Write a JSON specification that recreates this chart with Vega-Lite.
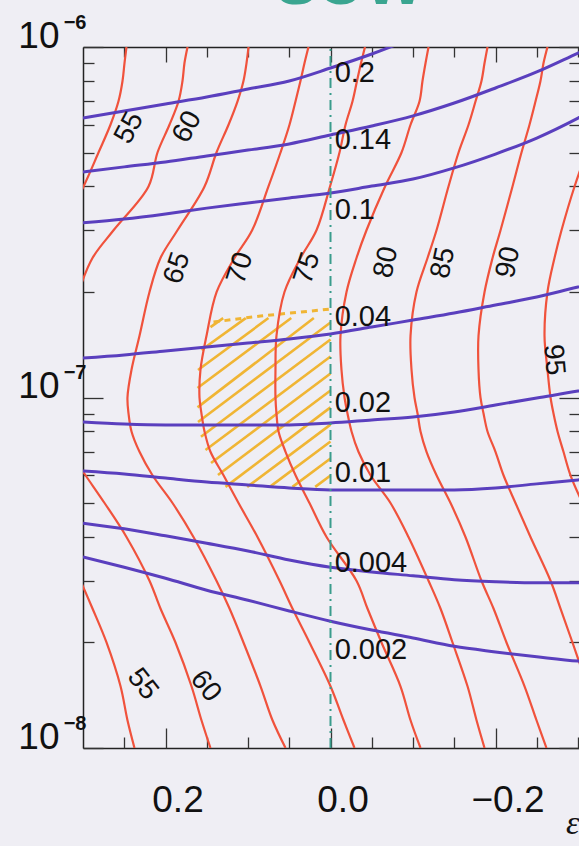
{
  "$schema": "https://vega.github.io/schema/vega-lite/v6.json",
  "width": 496,
  "height": 701,
  "autosize": "none",
  "padding": {"left": 83, "top": 47, "right": 0, "bottom": 98},
  "background": "#EFEEF4",
  "config": {
    "view": {"stroke": null},
    "font": "Liberation Sans",
    "axis": {"grid": false, "tickColor": "#333333", "tickWidth": 1.3, "domainColor": "#222222", "domainWidth": 1.5, "labelColor": "#111111", "labelFont": "Liberation Sans"}
  },
  "datasets": {
    "red": [
      {"c":"55a","eps":0.2473,"y":1e-6},{"c":"55a","eps":0.2497,"y":9e-7},{"c":"55a","eps":0.2521,"y":8e-7},{"c":"55a","eps":0.257,"y":7e-7},{"c":"55a","eps":0.2667,"y":6e-7},{"c":"55a","eps":0.2812,"y":5e-7},{"c":"55a","eps":0.2994,"y":4e-7},{"c":"55a","eps":0.327,"y":3e-7},
      {"c":"55b","eps":0.303,"y":3e-8},{"c":"55b","eps":0.2885,"y":2.5e-8},{"c":"55b","eps":0.2715,"y":2e-8},{"c":"55b","eps":0.2545,"y":1.5e-8},{"c":"55b","eps":0.2461,"y":1.2e-8},{"c":"55b","eps":0.2376,"y":1e-8},
      {"c":"60a","eps":0.1733,"y":1e-6},{"c":"60a","eps":0.177,"y":9e-7},{"c":"60a","eps":0.1794,"y":8e-7},{"c":"60a","eps":0.1842,"y":7e-7},{"c":"60a","eps":0.1952,"y":6e-7},{"c":"60a","eps":0.2097,"y":5e-7},{"c":"60a","eps":0.2206,"y":4e-7},{"c":"60a","eps":0.263,"y":3e-7},{"c":"60a","eps":0.2885,"y":2.5e-7},{"c":"60a","eps":0.3055,"y":2e-7},
      {"c":"60b","eps":0.316,"y":7e-8},{"c":"60b","eps":0.297,"y":6e-8},{"c":"60b","eps":0.2739,"y":5e-8},{"c":"60b","eps":0.2473,"y":4e-8},{"c":"60b","eps":0.2194,"y":3e-8},{"c":"60b","eps":0.2061,"y":2.5e-8},{"c":"60b","eps":0.1879,"y":2e-8},{"c":"60b","eps":0.1685,"y":1.5e-8},{"c":"60b","eps":0.1564,"y":1.2e-8},{"c":"60b","eps":0.1455,"y":1e-8},
      {"c":"65","eps":0.0994,"y":1e-6},{"c":"65","eps":0.1018,"y":9e-7},{"c":"65","eps":0.1055,"y":8e-7},{"c":"65","eps":0.1127,"y":7e-7},{"c":"65","eps":0.1236,"y":6e-7},{"c":"65","eps":0.1382,"y":5e-7},{"c":"65","eps":0.1527,"y":4e-7},{"c":"65","eps":0.1855,"y":3e-7},{"c":"65","eps":0.2061,"y":2.5e-7},{"c":"65","eps":0.2194,"y":2e-7},{"c":"65","eps":0.2315,"y":1.5e-7},{"c":"65","eps":0.2412,"y":1.2e-7},{"c":"65","eps":0.2461,"y":1e-7},{"c":"65","eps":0.2448,"y":9e-8},{"c":"65","eps":0.2412,"y":8e-8},{"c":"65","eps":0.2315,"y":7e-8},{"c":"65","eps":0.2158,"y":6e-8},{"c":"65","eps":0.1915,"y":5e-8},{"c":"65","eps":0.1661,"y":4e-8},{"c":"65","eps":0.1382,"y":3e-8},{"c":"65","eps":0.1224,"y":2.5e-8},{"c":"65","eps":0.1055,"y":2e-8},{"c":"65","eps":0.0848,"y":1.5e-8},{"c":"65","eps":0.0703,"y":1.2e-8},{"c":"65","eps":0.0545,"y":1e-8},
      {"c":"70","eps":0.0267,"y":1e-6},{"c":"70","eps":0.0315,"y":9e-7},{"c":"70","eps":0.0364,"y":8e-7},{"c":"70","eps":0.0424,"y":7e-7},{"c":"70","eps":0.0497,"y":6e-7},{"c":"70","eps":0.0606,"y":5e-7},{"c":"70","eps":0.0752,"y":4e-7},{"c":"70","eps":0.095,"y":3e-7},{"c":"70","eps":0.1164,"y":2.5e-7},{"c":"70","eps":0.138,"y":2e-7},{"c":"70","eps":0.1503,"y":1.5e-7},{"c":"70","eps":0.1576,"y":1.2e-7},{"c":"70","eps":0.1588,"y":1e-7},{"c":"70","eps":0.1564,"y":9e-8},{"c":"70","eps":0.1527,"y":8e-8},{"c":"70","eps":0.1455,"y":7e-8},{"c":"70","eps":0.1297,"y":6e-8},{"c":"70","eps":0.1115,"y":5e-8},{"c":"70","eps":0.0885,"y":4e-8},{"c":"70","eps":0.0618,"y":3e-8},{"c":"70","eps":0.0461,"y":2.5e-8},{"c":"70","eps":0.0255,"y":2e-8},{"c":"70","eps":0.0,"y":1.5e-8},{"c":"70","eps":-0.0158,"y":1.2e-8},{"c":"70","eps":-0.0291,"y":1e-8},
      {"c":"75","eps":-0.0418,"y":1e-6},{"c":"75","eps":-0.037,"y":9e-7},{"c":"75","eps":-0.0321,"y":8e-7},{"c":"75","eps":-0.0267,"y":7e-7},{"c":"75","eps":-0.0182,"y":6e-7},{"c":"75","eps":-0.0109,"y":5e-7},{"c":"75","eps":0.0006,"y":4e-7},{"c":"75","eps":0.017,"y":3e-7},{"c":"75","eps":0.0364,"y":2.5e-7},{"c":"75","eps":0.0558,"y":2e-7},{"c":"75","eps":0.0655,"y":1.5e-7},{"c":"75","eps":0.0667,"y":1.2e-7},{"c":"75","eps":0.0667,"y":1e-7},{"c":"75","eps":0.0655,"y":9e-8},{"c":"75","eps":0.063,"y":8e-8},{"c":"75","eps":0.0545,"y":7e-8},{"c":"75","eps":0.0424,"y":6e-8},{"c":"75","eps":0.0255,"y":5e-8},{"c":"75","eps":0.0048,"y":4e-8},{"c":"75","eps":-0.0315,"y":3e-8},{"c":"75","eps":-0.0448,"y":2.5e-8},{"c":"75","eps":-0.0618,"y":2e-8},{"c":"75","eps":-0.0848,"y":1.5e-8},{"c":"75","eps":-0.097,"y":1.2e-8},{"c":"75","eps":-0.1091,"y":1e-8},
      {"c":"80","eps":-0.1188,"y":1e-6},{"c":"80","eps":-0.1152,"y":9e-7},{"c":"80","eps":-0.1115,"y":8e-7},{"c":"80","eps":-0.1079,"y":7e-7},{"c":"80","eps":-0.097,"y":6e-7},{"c":"80","eps":-0.0861,"y":5e-7},{"c":"80","eps":-0.0661,"y":4e-7},{"c":"80","eps":-0.0436,"y":3e-7},{"c":"80","eps":-0.0315,"y":2.5e-7},{"c":"80","eps":-0.0194,"y":2e-7},{"c":"80","eps":-0.0121,"y":1.5e-7},{"c":"80","eps":-0.0133,"y":1.2e-7},{"c":"80","eps":-0.017,"y":1e-7},{"c":"80","eps":-0.0206,"y":9e-8},{"c":"80","eps":-0.0255,"y":8e-8},{"c":"80","eps":-0.0339,"y":7e-8},{"c":"80","eps":-0.0485,"y":6e-8},{"c":"80","eps":-0.0727,"y":5e-8},{"c":"80","eps":-0.0945,"y":4e-8},{"c":"80","eps":-0.1188,"y":3e-8},{"c":"80","eps":-0.1333,"y":2.5e-8},{"c":"80","eps":-0.1479,"y":2e-8},{"c":"80","eps":-0.1661,"y":1.5e-8},{"c":"80","eps":-0.177,"y":1.2e-8},{"c":"80","eps":-0.1867,"y":1e-8},
      {"c":"85","eps":-0.1903,"y":1e-6},{"c":"85","eps":-0.1867,"y":9e-7},{"c":"85","eps":-0.183,"y":8e-7},{"c":"85","eps":-0.1758,"y":7e-7},{"c":"85","eps":-0.1673,"y":6e-7},{"c":"85","eps":-0.1552,"y":5e-7},{"c":"85","eps":-0.143,"y":4e-7},{"c":"85","eps":-0.1285,"y":3e-7},{"c":"85","eps":-0.1176,"y":2.5e-7},{"c":"85","eps":-0.1042,"y":2e-7},{"c":"85","eps":-0.097,"y":1.5e-7},{"c":"85","eps":-0.0982,"y":1.2e-7},{"c":"85","eps":-0.1018,"y":1e-7},{"c":"85","eps":-0.1055,"y":9e-8},{"c":"85","eps":-0.1091,"y":8e-8},{"c":"85","eps":-0.1164,"y":7e-8},{"c":"85","eps":-0.1285,"y":6e-8},{"c":"85","eps":-0.1455,"y":5e-8},{"c":"85","eps":-0.1636,"y":4e-8},{"c":"85","eps":-0.183,"y":3e-8},{"c":"85","eps":-0.1976,"y":2.5e-8},{"c":"85","eps":-0.2133,"y":2e-8},{"c":"85","eps":-0.2352,"y":1.5e-8},{"c":"85","eps":-0.2497,"y":1.2e-8},{"c":"85","eps":-0.2618,"y":1e-8},
      {"c":"90","eps":-0.263,"y":1e-6},{"c":"90","eps":-0.2582,"y":9e-7},{"c":"90","eps":-0.2545,"y":8e-7},{"c":"90","eps":-0.2485,"y":7e-7},{"c":"90","eps":-0.2412,"y":6e-7},{"c":"90","eps":-0.2315,"y":5e-7},{"c":"90","eps":-0.2206,"y":4e-7},{"c":"90","eps":-0.2061,"y":3e-7},{"c":"90","eps":-0.1964,"y":2.5e-7},{"c":"90","eps":-0.1867,"y":2e-7},{"c":"90","eps":-0.1794,"y":1.5e-7},{"c":"90","eps":-0.1794,"y":1.2e-7},{"c":"90","eps":-0.1818,"y":1e-7},{"c":"90","eps":-0.1855,"y":9e-8},{"c":"90","eps":-0.1903,"y":8e-8},{"c":"90","eps":-0.2,"y":7e-8},{"c":"90","eps":-0.2097,"y":6e-8},{"c":"90","eps":-0.2242,"y":5e-8},{"c":"90","eps":-0.2424,"y":4e-8},{"c":"90","eps":-0.2667,"y":3e-8},{"c":"90","eps":-0.2788,"y":2.5e-8},{"c":"90","eps":-0.2933,"y":2e-8},{"c":"90","eps":-0.3115,"y":1.5e-8},
      {"c":"95","eps":-0.3103,"y":5e-7},{"c":"95","eps":-0.2958,"y":4e-7},{"c":"95","eps":-0.28,"y":3e-7},{"c":"95","eps":-0.2715,"y":2.5e-7},{"c":"95","eps":-0.263,"y":2e-7},{"c":"95","eps":-0.2594,"y":1.5e-7},{"c":"95","eps":-0.263,"y":1.2e-7},{"c":"95","eps":-0.2667,"y":1e-7},{"c":"95","eps":-0.2703,"y":9e-8},{"c":"95","eps":-0.2752,"y":8e-8},{"c":"95","eps":-0.2824,"y":7e-8},{"c":"95","eps":-0.2909,"y":6e-8},{"c":"95","eps":-0.3055,"y":5e-8}
    ],
    "purple": [
      {"c":"0.2","eps":0.3,"y":6.27e-7},{"c":"0.2","eps":0.25,"y":6.57e-7},{"c":"0.2","eps":0.2,"y":6.88e-7},{"c":"0.2","eps":0.15,"y":7.2e-7},{"c":"0.2","eps":0.1,"y":7.59e-7},{"c":"0.2","eps":0.05,"y":8.0e-7},{"c":"0.2","eps":0,"y":8.71e-7},{"c":"0.2","eps":-0.05,"y":9.55e-7},{"c":"0.2","eps":-0.1,"y":1.061e-6},
      {"c":"0.14","eps":0.3,"y":4.4e-7},{"c":"0.14","eps":0.25,"y":4.55e-7},{"c":"0.14","eps":0.2,"y":4.7e-7},{"c":"0.14","eps":0.15,"y":4.89e-7},{"c":"0.14","eps":0.1,"y":5.08e-7},{"c":"0.14","eps":0.05,"y":5.29e-7},{"c":"0.14","eps":0,"y":5.61e-7},{"c":"0.14","eps":-0.05,"y":5.95e-7},{"c":"0.14","eps":-0.1,"y":6.36e-7},{"c":"0.14","eps":-0.15,"y":6.92e-7},{"c":"0.14","eps":-0.2,"y":7.64e-7},{"c":"0.14","eps":-0.25,"y":8.49e-7},{"c":"0.14","eps":-0.3,"y":9.61e-7},{"c":"0.14","eps":-0.327,"y":1.027e-6},
      {"c":"0.1","eps":0.3,"y":3.15e-7},{"c":"0.1","eps":0.25,"y":3.23e-7},{"c":"0.1","eps":0.2,"y":3.34e-7},{"c":"0.1","eps":0.15,"y":3.47e-7},{"c":"0.1","eps":0.1,"y":3.59e-7},{"c":"0.1","eps":0.05,"y":3.71e-7},{"c":"0.1","eps":0,"y":3.83e-7},{"c":"0.1","eps":-0.05,"y":4.01e-7},{"c":"0.1","eps":-0.1,"y":4.2e-7},{"c":"0.1","eps":-0.15,"y":4.52e-7},{"c":"0.1","eps":-0.2,"y":4.95e-7},{"c":"0.1","eps":-0.25,"y":5.5e-7},{"c":"0.1","eps":-0.3,"y":6.27e-7},{"c":"0.1","eps":-0.327,"y":6.79e-7},
      {"c":"0.04","eps":0.3,"y":1.297e-7},{"c":"0.04","eps":0.25,"y":1.323e-7},{"c":"0.04","eps":0.2,"y":1.358e-7},{"c":"0.04","eps":0.15,"y":1.394e-7},{"c":"0.04","eps":0.1,"y":1.431e-7},{"c":"0.04","eps":0.05,"y":1.469e-7},{"c":"0.04","eps":0,"y":1.518e-7},{"c":"0.04","eps":-0.05,"y":1.588e-7},{"c":"0.04","eps":-0.1,"y":1.664e-7},{"c":"0.04","eps":-0.15,"y":1.742e-7},{"c":"0.04","eps":-0.2,"y":1.836e-7},{"c":"0.04","eps":-0.25,"y":1.935e-7},{"c":"0.04","eps":-0.3,"y":2.066e-7},{"c":"0.04","eps":-0.327,"y":2.135e-7},
      {"c":"0.02","eps":0.3,"y":8.51e-8},{"c":"0.02","eps":0.25,"y":8.4e-8},{"c":"0.02","eps":0.2,"y":8.35e-8},{"c":"0.02","eps":0.15,"y":8.35e-8},{"c":"0.02","eps":0.1,"y":8.35e-8},{"c":"0.02","eps":0.05,"y":8.35e-8},{"c":"0.02","eps":0,"y":8.46e-8},{"c":"0.02","eps":-0.05,"y":8.63e-8},{"c":"0.02","eps":-0.1,"y":8.8e-8},{"c":"0.02","eps":-0.15,"y":9.09e-8},{"c":"0.02","eps":-0.2,"y":9.52e-8},{"c":"0.02","eps":-0.25,"y":9.97e-8},{"c":"0.02","eps":-0.3,"y":1.043e-7},{"c":"0.02","eps":-0.327,"y":1.072e-7},
      {"c":"0.01","eps":0.3,"y":6.17e-8},{"c":"0.01","eps":0.25,"y":6.05e-8},{"c":"0.01","eps":0.2,"y":5.89e-8},{"c":"0.01","eps":0.15,"y":5.74e-8},{"c":"0.01","eps":0.1,"y":5.63e-8},{"c":"0.01","eps":0.05,"y":5.52e-8},{"c":"0.01","eps":0,"y":5.45e-8},{"c":"0.01","eps":-0.05,"y":5.45e-8},{"c":"0.01","eps":-0.1,"y":5.45e-8},{"c":"0.01","eps":-0.15,"y":5.45e-8},{"c":"0.01","eps":-0.2,"y":5.52e-8},{"c":"0.01","eps":-0.25,"y":5.67e-8},{"c":"0.01","eps":-0.3,"y":5.82e-8},{"c":"0.01","eps":-0.327,"y":5.89e-8},
      {"c":"0.004","eps":0.3,"y":4.38e-8},{"c":"0.004","eps":0.25,"y":4.22e-8},{"c":"0.004","eps":0.2,"y":4.03e-8},{"c":"0.004","eps":0.15,"y":3.84e-8},{"c":"0.004","eps":0.1,"y":3.65e-8},{"c":"0.004","eps":0.05,"y":3.44e-8},{"c":"0.004","eps":0,"y":3.28e-8},{"c":"0.004","eps":-0.05,"y":3.18e-8},{"c":"0.004","eps":-0.1,"y":3.1e-8},{"c":"0.004","eps":-0.15,"y":3.02e-8},{"c":"0.004","eps":-0.2,"y":2.98e-8},{"c":"0.004","eps":-0.25,"y":2.96e-8},{"c":"0.004","eps":-0.3,"y":2.96e-8},{"c":"0.004","eps":-0.327,"y":2.96e-8},
      {"c":"0.002","eps":0.3,"y":3.51e-8},{"c":"0.002","eps":0.25,"y":3.28e-8},{"c":"0.002","eps":0.2,"y":3.05e-8},{"c":"0.002","eps":0.15,"y":2.82e-8},{"c":"0.002","eps":0.1,"y":2.64e-8},{"c":"0.002","eps":0.05,"y":2.46e-8},{"c":"0.002","eps":0,"y":2.3e-8},{"c":"0.002","eps":-0.05,"y":2.17e-8},{"c":"0.002","eps":-0.1,"y":2.06e-8},{"c":"0.002","eps":-0.15,"y":1.95e-8},{"c":"0.002","eps":-0.2,"y":1.88e-8},{"c":"0.002","eps":-0.25,"y":1.82e-8},{"c":"0.002","eps":-0.3,"y":1.77e-8},{"c":"0.002","eps":-0.327,"y":1.76e-8}
    ],
    "hatch": [
      {"eps":0.1455,"y":1.588e-7,"eps2":0.1301,"y2":1.685e-7},
      {"eps":0.1564,"y":1.366e-7,"eps2":0.1027,"y2":1.685e-7},
      {"eps":0.1606,"y":1.198e-7,"eps2":0.0752,"y2":1.685e-7},
      {"eps":0.1612,"y":1.064e-7,"eps2":0.0476,"y2":1.685e-7},
      {"eps":0.1612,"y":9.37e-8,"eps2":0.0202,"y2":1.685e-7},
      {"eps":0.1606,"y":8.51e-8,"eps2":0,"y2":1.637e-7},
      {"eps":0.157,"y":7.73e-8,"eps2":0,"y2":1.464e-7},
      {"eps":0.1515,"y":7.08e-8,"eps2":0,"y2":1.309e-7},
      {"eps":0.1448,"y":6.5e-8,"eps2":0,"y2":1.171e-7},
      {"eps":0.1364,"y":6.01e-8,"eps2":0,"y2":1.047e-7},
      {"eps":0.1273,"y":5.56e-8,"eps2":0,"y2":9.37e-8},
      {"eps":0.101,"y":5.56e-8,"eps2":0,"y2":8.37e-8},
      {"eps":0.0736,"y":5.56e-8,"eps2":0,"y2":7.49e-8},
      {"eps":0.0461,"y":5.56e-8,"eps2":0,"y2":6.7e-8},
      {"eps":0.0185,"y":5.56e-8,"eps2":0,"y2":5.99e-8}
    ],
    "hatchtop": [
      {"eps":0.1418,"y":1.642e-7},{"eps":0.0848,"y":1.708e-7},{"eps":0.0364,"y":1.753e-7},{"eps":0.0,"y":1.788e-7}
    ],
    "teal": [{"eps":0,"y":1e-8},{"eps":0,"y":1e-6}],
    "plab": [
      {"t":"0.2","eps":-0.005,"y":8.43e-7},
      {"t":"0.14","eps":-0.005,"y":5.43e-7},
      {"t":"0.1","eps":-0.005,"y":3.43e-7},
      {"t":"0.04","eps":-0.005,"y":1.7e-7},
      {"t":"0.02","eps":-0.005,"y":9.65e-8},
      {"t":"0.01","eps":-0.005,"y":6.09e-8},
      {"t":"0.004","eps":-0.005,"y":3.37e-8},
      {"t":"0.002","eps":-0.005,"y":1.9e-8}
    ],
    "rlab": [
      {"t":"55","g":"A","eps":0.2436,"y":5.87e-7},
      {"t":"60","g":"A","eps":0.1733,"y":5.91e-7},
      {"t":"65","g":"B","eps":0.1855,"y":2.34e-7},
      {"t":"70","g":"B","eps":0.1091,"y":2.34e-7},
      {"t":"75","g":"B","eps":0.0279,"y":2.34e-7},
      {"t":"80","g":"C","eps":-0.0679,"y":2.43e-7},
      {"t":"85","g":"C","eps":-0.137,"y":2.42e-7},
      {"t":"90","g":"C","eps":-0.2158,"y":2.43e-7},
      {"t":"95","g":"D","eps":-0.2703,"y":1.28e-7},
      {"t":"55","g":"E","eps":0.2279,"y":1.52e-8},
      {"t":"60","g":"E","eps":0.1515,"y":1.5e-8}
    ]
  },
  "resolve": {"axis": {"x": "independent", "y": "independent"}},
  "layer": [
    {
      "data": {"name": "hatch"},
      "mark": {"type": "rule", "color": "#F0B534", "strokeWidth": 2.6, "clip": true},
      "encoding": {
        "x": {"field": "eps", "type": "quantitative",
              "scale": {"domain": [0.3, -0.3012], "nice": false, "zero": false},
              "axis": {"orient": "bottom", "values": [0.2, 0, -0.2], "format": ".1f", "ticks": false, "domain": true,
                       "labelFontSize": 37, "labelPadding": 34, "labelOffset": 12, "labelFlush": false, "labelOverlap": false, "labelBound": false,
                       "title": "ε", "titleFont": "Liberation Serif", "titleFontStyle": "italic", "titleFontWeight": "normal", "titleFontSize": 34,
                       "titleAnchor": "end", "titlePadding": -12, "titleColor": "#111111"}},
        "y": {"field": "y", "type": "quantitative",
              "scale": {"type": "log", "domain": [1e-8, 1e-6], "nice": false},
              "axis": {"orient": "left", "values": [1e-8, 1e-7, 1e-6], "labelExpr": "'10'", "ticks": false, "domain": true,
                       "labelFontSize": 37, "labelPadding": 24, "labelBaseline": "alphabetic", "labelOverlap": false, "labelBound": false, "title": null}},
        "x2": {"field": "eps2"},
        "y2": {"field": "y2"}
      }
    },
    {
      "data": {"name": "hatchtop"},
      "mark": {"type": "line", "color": "#F0B534", "strokeWidth": 3, "strokeDash": [6, 5], "clip": true},
      "encoding": {
        "x": {"field": "eps", "type": "quantitative",
              "axis": {"orient": "bottom", "values": [0.2, 0, -0.2], "labels": false, "domain": false, "tickSize": -20, "title": null}},
        "y": {"field": "y", "type": "quantitative",
              "axis": {"orient": "left", "values": [1e-8, 1e-7, 1e-6], "labelExpr": "datum.value < 5e-8 ? '−8' : (datum.value < 5e-7 ? '−7' : '−6')",
                       "ticks": false, "domain": false, "labelFontSize": 20, "labelFontWeight": "bold", "labelPadding": -3, "labelBaseline": "alphabetic", "labelOffset": -19,
                       "labelOverlap": false, "labelBound": false, "title": null}}
      }
    },
    {
      "data": {"name": "red"},
      "mark": {"type": "line", "color": "#F0523C", "strokeWidth": 2.2, "interpolate": "catmull-rom", "clip": true},
      "encoding": {
        "x": {"field": "eps", "type": "quantitative",
              "axis": {"orient": "bottom", "values": [0.25, 0.15, 0.1, 0.05, -0.05, -0.1, -0.15, -0.25, -0.3], "labels": false, "domain": false, "tickSize": -11, "title": null}},
        "y": {"field": "y", "type": "quantitative",
              "axis": {"orient": "left", "values": [1e-8, 1e-7, 1e-6], "labels": false, "domain": false, "tickSize": -20, "title": null}},
        "detail": {"field": "c", "type": "nominal"},
        "order": {"field": "y", "type": "quantitative"}
      }
    },
    {
      "data": {"name": "purple"},
      "mark": {"type": "line", "color": "#5A3FBE", "strokeWidth": 3, "interpolate": "monotone", "clip": true},
      "encoding": {
        "x": {"field": "eps", "type": "quantitative",
              "axis": {"orient": "top", "values": [0.2, 0, -0.2], "labels": false, "domain": true, "tickSize": -15, "title": null}},
        "y": {"field": "y", "type": "quantitative",
              "axis": {"orient": "left", "values": [2e-8, 3e-8, 4e-8, 5e-8, 6e-8, 7e-8, 8e-8, 9e-8, 2e-7, 3e-7, 4e-7, 5e-7, 6e-7, 7e-7, 8e-7, 9e-7],
                       "labels": false, "domain": false, "tickSize": -11, "title": null}},
        "detail": {"field": "c", "type": "nominal"}
      }
    },
    {
      "data": {"name": "teal"},
      "mark": {"type": "line", "color": "#3A9C8C", "strokeWidth": 2, "strokeDash": [10, 5, 2, 5], "clip": true},
      "encoding": {
        "x": {"field": "eps", "type": "quantitative",
              "axis": {"orient": "top", "values": [0.25, 0.15, 0.1, 0.05, -0.05, -0.1, -0.15, -0.25, -0.3], "labels": false, "domain": false, "tickSize": -10,
                       "title": "SOW", "titleColor": "#3AA590", "titleFont": "Liberation Sans", "titleFontSize": 62, "titleFontWeight": "bold",
                       "titleX": 266, "titleY": -44, "titleAlign": "center", "titleBaseline": "alphabetic", "titleAngle": 0}},
        "y": {"field": "y", "type": "quantitative",
              "axis": {"orient": "right", "values": [1e-8, 1e-7, 1e-6], "labels": false, "domain": false, "tickSize": -20, "title": null}},
        "order": {"field": "y", "type": "quantitative"}
      }
    },
    {
      "data": {"name": "plab"},
      "mark": {"type": "text", "align": "left", "baseline": "middle", "fontSize": 29, "color": "#111111", "font": "Liberation Sans"},
      "encoding": {
        "x": {"field": "eps", "type": "quantitative", "axis": null},
        "y": {"field": "y", "type": "quantitative",
              "axis": {"orient": "right", "values": [2e-8, 3e-8, 4e-8, 5e-8, 6e-8, 7e-8, 8e-8, 9e-8, 2e-7, 3e-7, 4e-7, 5e-7, 6e-7, 7e-7, 8e-7, 9e-7],
                       "labels": false, "domain": false, "tickSize": -10, "title": null}},
        "text": {"field": "t", "type": "nominal"}
      }
    },
    {
      "data": {"name": "rlab"},
      "transform": [{"filter": "datum.g === 'A'"}],
      "mark": {"type": "text", "align": "center", "baseline": "middle", "fontSize": 28, "color": "#111111", "angle": -62},
      "encoding": {
        "x": {"field": "eps", "type": "quantitative", "axis": null},
        "y": {"field": "y", "type": "quantitative", "axis": null},
        "text": {"field": "t", "type": "nominal"}
      }
    },
    {
      "data": {"name": "rlab"},
      "transform": [{"filter": "datum.g === 'B'"}],
      "mark": {"type": "text", "align": "center", "baseline": "middle", "fontSize": 28, "color": "#111111", "angle": -72},
      "encoding": {
        "x": {"field": "eps", "type": "quantitative", "axis": null},
        "y": {"field": "y", "type": "quantitative", "axis": null},
        "text": {"field": "t", "type": "nominal"}
      }
    },
    {
      "data": {"name": "rlab"},
      "transform": [{"filter": "datum.g === 'C'"}],
      "mark": {"type": "text", "align": "center", "baseline": "middle", "fontSize": 28, "color": "#111111", "angle": -78},
      "encoding": {
        "x": {"field": "eps", "type": "quantitative", "axis": null},
        "y": {"field": "y", "type": "quantitative", "axis": null},
        "text": {"field": "t", "type": "nominal"}
      }
    },
    {
      "data": {"name": "rlab"},
      "transform": [{"filter": "datum.g === 'D'"}],
      "mark": {"type": "text", "align": "center", "baseline": "middle", "fontSize": 28, "color": "#111111", "angle": 85},
      "encoding": {
        "x": {"field": "eps", "type": "quantitative", "axis": null},
        "y": {"field": "y", "type": "quantitative", "axis": null},
        "text": {"field": "t", "type": "nominal"}
      }
    },
    {
      "data": {"name": "rlab"},
      "transform": [{"filter": "datum.g === 'E'"}],
      "mark": {"type": "text", "align": "center", "baseline": "middle", "fontSize": 28, "color": "#111111", "angle": 52},
      "encoding": {
        "x": {"field": "eps", "type": "quantitative", "axis": null},
        "y": {"field": "y", "type": "quantitative", "axis": null},
        "text": {"field": "t", "type": "nominal"}
      }
    }
  ]
}
